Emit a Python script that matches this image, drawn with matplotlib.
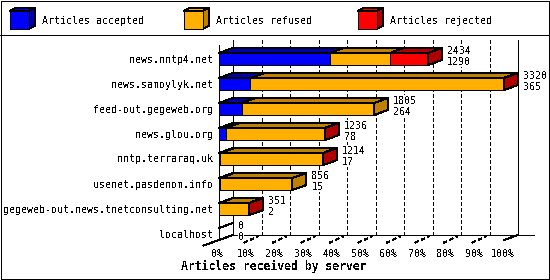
import matplotlib
matplotlib.use("Agg")
import matplotlib.pyplot as plt
from matplotlib.patches import Polygon, Rectangle

# ---------------- data ----------------
servers = ["news.nntp4.net", "news.samoylyk.net", "feed-out.gegeweb.org",
           "news.glou.org", "nntp.terraraq.uk", "usenet.pasdenom.info",
           "gegeweb-out.news.tnetconsulting.net", "localhost"]
totals = [2434, 3320, 1805, 1236, 1214, 856, 351, 0]
accepted = [1290, 365, 264, 78, 17, 15, 2, 0]
refused = [699, 2950, 1541, 1152, 1192, 841, 344, 0]
rejected = [445, 5, 0, 6, 5, 0, 5, 0]
series_names = ["Articles accepted", "Articles refused", "Articles rejected"]
pct_ticks = list(range(0, 101, 10))
xlabel = "Articles received by server"

# ---------------- style ----------------
front_colors = ["#0000FF", "#FFB000", "#FF0000"]
dark_colors = ["#0000B0", "#C08000", "#B00000"]
W, H, DPI = 550, 280, 100
FS = 7.2
LW = 72.0 / DPI  # one pixel

plt.rcParams['font.family'] = ['DejaVu Sans Mono']
plt.rcParams['text.antialiased'] = False
plt.rcParams['lines.antialiased'] = False
plt.rcParams['patch.antialiased'] = False

fig = plt.figure(figsize=(W / DPI, H / DPI), dpi=DPI, facecolor='white')

# overlay axes in pixel units for frame and legend
ov = fig.add_axes([0, 0, 1, 1])
ov.set_xlim(0, W)
ov.set_ylim(H, 0)
ov.axis('off')
ov.add_patch(Rectangle((0.5, 0.5), W - 1.5, H - 1.5, fill=False, ec='black', lw=LW))
ov.plot([0, W], [35, 35], color='black', lw=LW)

# legend cubes
for j, name in enumerate(series_names):
    x0 = 10 + j * 174
    y0, s, d, e = 10.7, 19, 6, 3
    ov.add_patch(Polygon([(x0, y0), (x0 + s, y0), (x0 + s + d, y0 - e), (x0 + d, y0 - e)],
                         closed=True, fc=front_colors[j], ec='black', lw=LW))
    ov.add_patch(Polygon([(x0 + s, y0), (x0 + s + d, y0 - e), (x0 + s + d, y0 + 18 - e), (x0 + s, y0 + 18)],
                         closed=True, fc=dark_colors[j], ec='black', lw=LW))
    ov.add_patch(Rectangle((x0, y0), s, 18, fc=front_colors[j], ec='black', lw=LW))
    ov.text(x0 + 32, 24, name, fontsize=FS, ha='left', va='baseline')

ov.text(274, 270, xlabel, fontsize=8.3, fontweight='bold', ha='center', va='baseline')

# ---------------- main plot axes ----------------
L, R, T, B = 219, 504, 45, 246.5
ax = fig.add_axes([L / W, 1 - B / H, (R - L) / W, (B - T) / H])
n = len(servers)
xmax = max(totals)
ytop = -0.56
ax.set_xlim(0, xmax)
ax.set_ylim(n - 0.5, ytop)
ax.axis('off')

sx = xmax / (R - L)                 # data per pixel (x)
sy = (n - 0.5 - ytop) / (B - T)     # rows per pixel (y, downwards)
DX, DY = 14 * sx, -5 * sy           # depth offset
bar_h = 12 * sy
floor_front = (n - 1) + bar_h / 2
floor_back = floor_front + DY
top_back = ytop + DY

kw = dict(color='black', lw=LW, clip_on=False)
# walls
ax.plot([0, 0], [ytop, floor_front], **kw)
ax.plot([DX, DX], [top_back, floor_back], **kw)
ax.plot([xmax + DX, xmax + DX], [top_back, floor_back], **kw)
for p in pct_ticks[1:-1]:
    xv = p / 100 * xmax + DX
    ax.plot([xv, xv], [top_back, floor_back], color='black', lw=LW,
            dashes=(3.5, 2.5), clip_on=False, zorder=1)
# floor
ax.plot([DX, xmax + DX + 16 * sx], [floor_back, floor_back], **kw)
ax.plot([DX, -1.1 * DX], [floor_back, floor_front - 1.1 * DY], **kw)
ax.plot([xmax, xmax + DX], [floor_front, floor_back], **kw)
for p in pct_ticks[1:-1]:
    xv = p / 100 * xmax
    ax.plot([xv - 0.25 * DX, xv + 0.75 * DX],
            [floor_front - 0.25 * DY + 1.5 * sy, floor_front + 0.75 * DY],
            color='black', lw=LW, dashes=(3.0, 3.0), clip_on=False)
for p in pct_ticks:
    ax.text(p / 100 * xmax - 1.5 * sx, floor_front + 16.7 * sy, f"{p}%",
            fontsize=FS, ha='center', va='baseline', clip_on=False)

# bars
lab_bbox = dict(facecolor='white', edgecolor='none', pad=0.2)
for i in range(n):
    yt = i - bar_h / 2
    left = 0
    segs = [accepted[i], refused[i], rejected[i]]
    last = None
    for j, v in enumerate(segs):
        if v <= 0:
            continue
        ax.add_patch(Rectangle((left, yt), v, bar_h, fc=front_colors[j], ec='black',
                               lw=LW, clip_on=False, zorder=3))
        ax.add_patch(Polygon([(left, yt), (left + v, yt), (left + v + DX, yt + DY), (left + DX, yt + DY)],
                             closed=True, fc=dark_colors[j], ec='black', lw=LW,
                             clip_on=False, zorder=3))
        left += v
        last = j
    end = totals[i]
    if last is not None:
        ax.add_patch(Polygon([(end, yt), (end + DX, yt + DY), (end + DX, yt + bar_h + DY), (end, yt + bar_h)],
                             closed=True, fc=dark_colors[last], ec='black', lw=LW,
                             clip_on=False, zorder=3))
    else:
        ax.plot([0, DX], [yt, yt + DY], color='black', lw=LW, clip_on=False, zorder=3)
    tx = end + DX + 5 * sx
    ax.text(tx, i - 5.5 * sy, str(totals[i]), fontsize=FS, ha='left', va='baseline',
            clip_on=False, zorder=4, bbox=lab_bbox)
    ax.text(tx, i + 5.5 * sy, str(accepted[i]), fontsize=FS, ha='left', va='baseline',
            clip_on=False, zorder=4, bbox=lab_bbox)
    ax.text(-6 * sx, i + 3.5 * sy, servers[i], fontsize=FS, ha='right', va='baseline',
            clip_on=False)

fig.savefig("out.png", dpi=DPI, facecolor='white')
